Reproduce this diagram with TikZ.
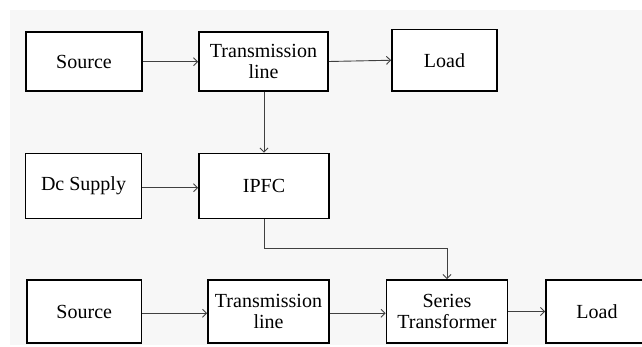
\documentclass[tikz,border=0pt]{standalone}
\usepackage{fontspec}
\setmainfont{Liberation Serif}
\usetikzlibrary{arrows.meta}
\begin{document}
\begin{tikzpicture}[x=1pt,y=-1pt,
  blk/.style={draw=black, line width=1.8pt, fill=white, inner sep=0pt, align=center,
    font=\fontsize{20}{21.5}\selectfont},
  conn/.style={draw=black!75, line width=0.9pt, -{Straight Barb[length=4pt,width=8pt]}}]
\useasboundingbox (0,0) rectangle (642,347);
\fill[white] (0,0) rectangle (642,347);
\fill[black!3] (10,10) rectangle (642,345);
% row 1
\node[blk, minimum width=116pt, minimum height=59pt] (src1) at (84,61.5) {Source};
\node[blk, minimum width=129pt, minimum height=59pt] (tl1) at (263.5,61.5) {Transmission\\line};
\node[blk, minimum width=105pt, minimum height=61.5pt] (load1) at (444.5,60.25) {Load};
% row 2
\node[blk, minimum width=116pt, minimum height=65pt] (dc) at (83.5,186) {Dc Supply};
\node[blk, minimum width=130pt, minimum height=65pt] (ipfc) at (264,186) {IPFC};
% row 3
\node[blk, minimum width=114.5pt, minimum height=63pt] (src2) at (84.25,311.5) {Source};
\node[blk, minimum width=121pt, minimum height=63pt] (tl2) at (268.5,311.5) {Transmission\\line};
\node[blk, minimum width=121pt, minimum height=63pt] (st) at (447,311.5) {Series\\Transformer};
\node[blk, minimum width=102pt, minimum height=63pt] (load2) at (597,311.5) {Load};
\coordinate (bend) at (264,248.7);
% connectors
\draw[conn] (src1.east |- 0,61.7) -- (tl1.west |- 0,61.7);
\draw[conn] (tl1.east) -- (load1.west);
\draw[conn] (tl1.south -| 264,0) -- (ipfc.north -| 264,0);
\draw[conn] (dc.east |- 0,187.7) -- (ipfc.west |- 0,187.7);
\draw[conn] (ipfc.south -| bend) -- (bend) -| (st.north);
\draw[conn] (src2.east |- 0,313.3) -- (tl2.west |- 0,313.3);
\draw[conn] (tl2.east |- 0,313.3) -- (st.west |- 0,313.3);
\draw[conn] (st.east) -- (load2.west);
\end{tikzpicture}
\end{document}
